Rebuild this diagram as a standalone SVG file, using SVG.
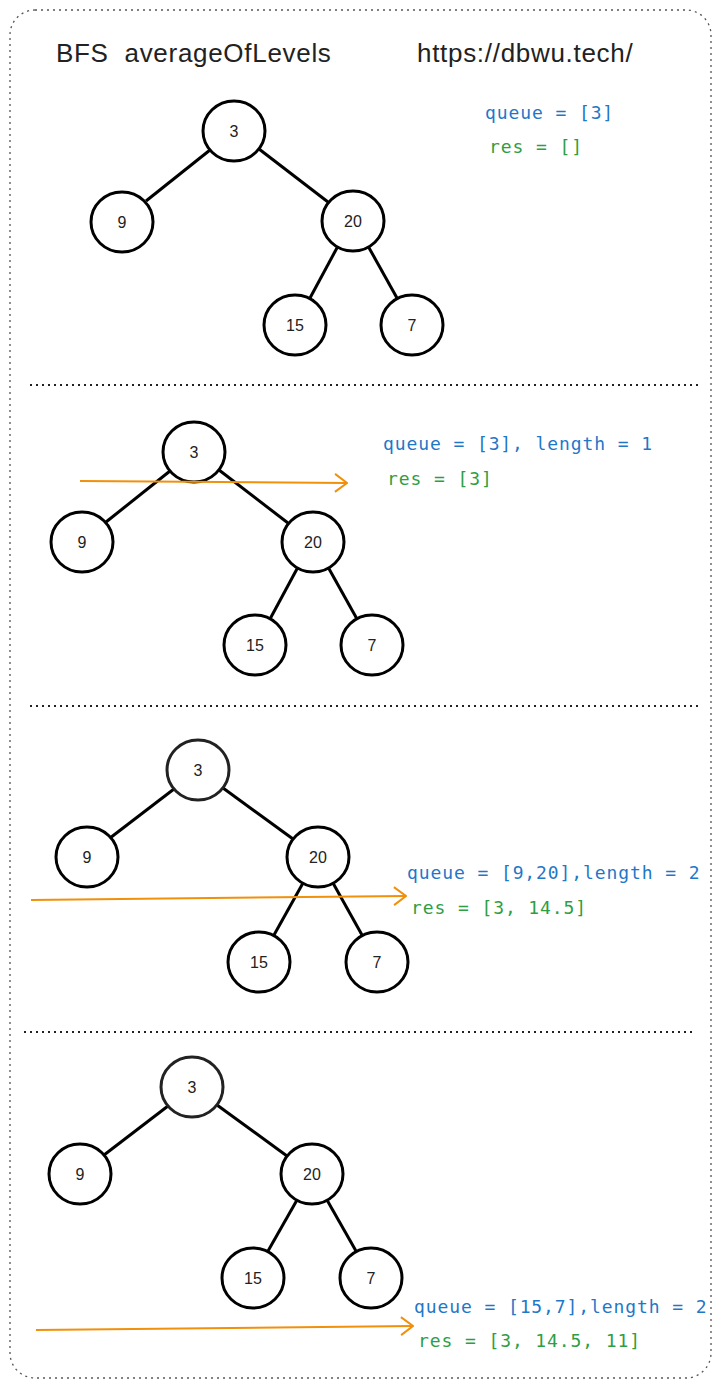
<svg xmlns="http://www.w3.org/2000/svg" width="721" height="1388" viewBox="0 0 721 1388">
<defs>
<style>
.frame{fill:none;stroke:#555;stroke-width:1.3;stroke-dasharray:2 4}
.div{stroke:#222;stroke-width:2;stroke-dasharray:2 4}
.title{font-family:"Liberation Sans",Arial,sans-serif;font-size:26px;fill:#222;letter-spacing:0.7px;white-space:pre}
.n ellipse{fill:#fff;stroke:#000;stroke-width:3}
.n text{font-family:"Liberation Sans",sans-serif;font-size:16px;fill:#222;text-anchor:middle}
.e{stroke:#000;stroke-width:3;fill:none}
.q{font-family:"DejaVu Sans Mono","Liberation Mono",monospace;font-size:18px;fill:#1f77c8;letter-spacing:0.9px}
.r{font-family:"DejaVu Sans Mono","Liberation Mono",monospace;font-size:18px;fill:#2e9e44;letter-spacing:0.9px}
.arr{stroke:#f0900b;stroke-width:2;fill:none}
</style>
<marker id="ah" viewBox="0 0 14 20" refX="13" refY="10" markerWidth="14" markerHeight="20" markerUnits="userSpaceOnUse" orient="auto">
<path d="M1,1 L13,10 L1,19" fill="none" stroke="#f0900b" stroke-width="2"/>
</marker>
</defs>
<rect class="frame" x="10" y="10" width="701" height="1368" rx="25"/>
<text class="title" x="56" y="62" xml:space="preserve">BFS  averageOfLevels</text>
<text class="title" x="417" y="62">https://dbwu.tech/</text>
<g id="dividers">
<line class="div" x1="30" y1="385" x2="700" y2="385"/>
<line class="div" x1="30" y1="706" x2="698" y2="706"/>
<line class="div" x1="24" y1="1032" x2="693" y2="1032"/>
</g>

<g id="connectors">
<g transform="translate(234,131)">
<line class="e" x1="-24" y1="19" x2="-88" y2="70"/>
<line class="e" x1="25" y1="18" x2="94" y2="71"/>
<line class="e" x1="104" y1="115" x2="76" y2="167"/>
<line class="e" x1="134" y1="115" x2="163" y2="167"/>
</g>
<g transform="translate(194,452)">
<line class="e" x1="-24" y1="19" x2="-88" y2="70"/>
<line class="e" x1="25" y1="18" x2="94" y2="71"/>
<line class="e" x1="104" y1="115" x2="76" y2="167"/>
<line class="e" x1="134" y1="115" x2="163" y2="167"/>
</g>
<g transform="translate(198,770)">
<line class="e" x1="-24" y1="19" x2="-88" y2="68"/>
<line class="e" x1="25" y1="18" x2="95" y2="69"/>
<line class="e" x1="105" y1="113" x2="76" y2="165"/>
<line class="e" x1="135" y1="113" x2="164" y2="165"/>
</g>
<g transform="translate(192,1087)">
<line class="e" x1="-24" y1="19" x2="-88" y2="68"/>
<line class="e" x1="25" y1="18" x2="95" y2="69"/>
<line class="e" x1="105" y1="113" x2="76" y2="164"/>
<line class="e" x1="135" y1="113" x2="164" y2="164"/>
</g>
</g>

<g id="tree1">
<g id="t1-n3" class="n"><ellipse cx="234" cy="131" rx="31" ry="30"/><text x="234" y="137">3</text></g>
<g id="t1-n9" class="n"><ellipse cx="122" cy="222" rx="31" ry="30"/><text x="122" y="228">9</text></g>
<g id="t1-n20" class="n"><ellipse cx="353" cy="221" rx="31" ry="30"/><text x="353" y="227">20</text></g>
<g id="t1-n15" class="n"><ellipse cx="295" cy="325" rx="31" ry="30"/><text x="295" y="331">15</text></g>
<g id="t1-n7" class="n"><ellipse cx="412" cy="325" rx="31" ry="30"/><text x="412" y="331">7</text></g>
</g>
<text class="q" x="485" y="119">queue = [3]</text>
<text class="r" x="489" y="153">res = []</text>

<g id="tree2">
<g id="t2-n3" class="n"><ellipse cx="194" cy="452" rx="31" ry="30"/><text x="194" y="458">3</text></g>
<g id="t2-n9" class="n"><ellipse cx="82" cy="542" rx="31" ry="30"/><text x="82" y="548">9</text></g>
<g id="t2-n20" class="n"><ellipse cx="313" cy="542" rx="31" ry="30"/><text x="313" y="548">20</text></g>
<g id="t2-n15" class="n"><ellipse cx="255" cy="645" rx="31" ry="30"/><text x="255" y="651">15</text></g>
<g id="t2-n7" class="n"><ellipse cx="372" cy="645" rx="31" ry="30"/><text x="372" y="651">7</text></g>
</g>
<line class="arr" x1="80" y1="481" x2="347" y2="483" marker-end="url(#ah)"/>
<text class="q" x="383" y="450">queue = [3], length = 1</text>
<text class="r" x="387" y="485">res = [3]</text>

<g id="tree3">
<g id="t3-n3" class="n"><ellipse cx="198" cy="770" rx="31" ry="30" style="stroke:#222"/><text x="198" y="776">3</text></g>
<g id="t3-n9" class="n"><ellipse cx="87" cy="857" rx="31" ry="30"/><text x="87" y="863">9</text></g>
<g id="t3-n20" class="n"><ellipse cx="318" cy="857" rx="31" ry="30"/><text x="318" y="863">20</text></g>
<g id="t3-n15" class="n"><ellipse cx="259" cy="962" rx="31" ry="30"/><text x="259" y="968">15</text></g>
<g id="t3-n7" class="n"><ellipse cx="377" cy="962" rx="31" ry="30"/><text x="377" y="968">7</text></g>
</g>
<line class="arr" x1="31" y1="900" x2="406" y2="896" marker-end="url(#ah)"/>
<text class="q" x="407" y="879">queue = [9,20],length = 2</text>
<text class="r" x="411" y="914">res = [3, 14.5]</text>

<g id="tree4">
<g id="t4-n3" class="n"><ellipse cx="192" cy="1087" rx="31" ry="30" style="stroke:#222"/><text x="192" y="1093">3</text></g>
<g id="t4-n9" class="n"><ellipse cx="80" cy="1174" rx="31" ry="30"/><text x="80" y="1180">9</text></g>
<g id="t4-n20" class="n"><ellipse cx="312" cy="1174" rx="31" ry="30"/><text x="312" y="1180">20</text></g>
<g id="t4-n15" class="n"><ellipse cx="253" cy="1278" rx="31" ry="30"/><text x="253" y="1284">15</text></g>
<g id="t4-n7" class="n"><ellipse cx="371" cy="1278" rx="31" ry="30"/><text x="371" y="1284">7</text></g>
</g>
<line class="arr" x1="36" y1="1330" x2="413" y2="1326" marker-end="url(#ah)"/>
<text class="q" x="414" y="1313">queue = [15,7],length = 2</text>
<text class="r" x="418" y="1347">res = [3, 14.5, 11]</text>
</svg>
